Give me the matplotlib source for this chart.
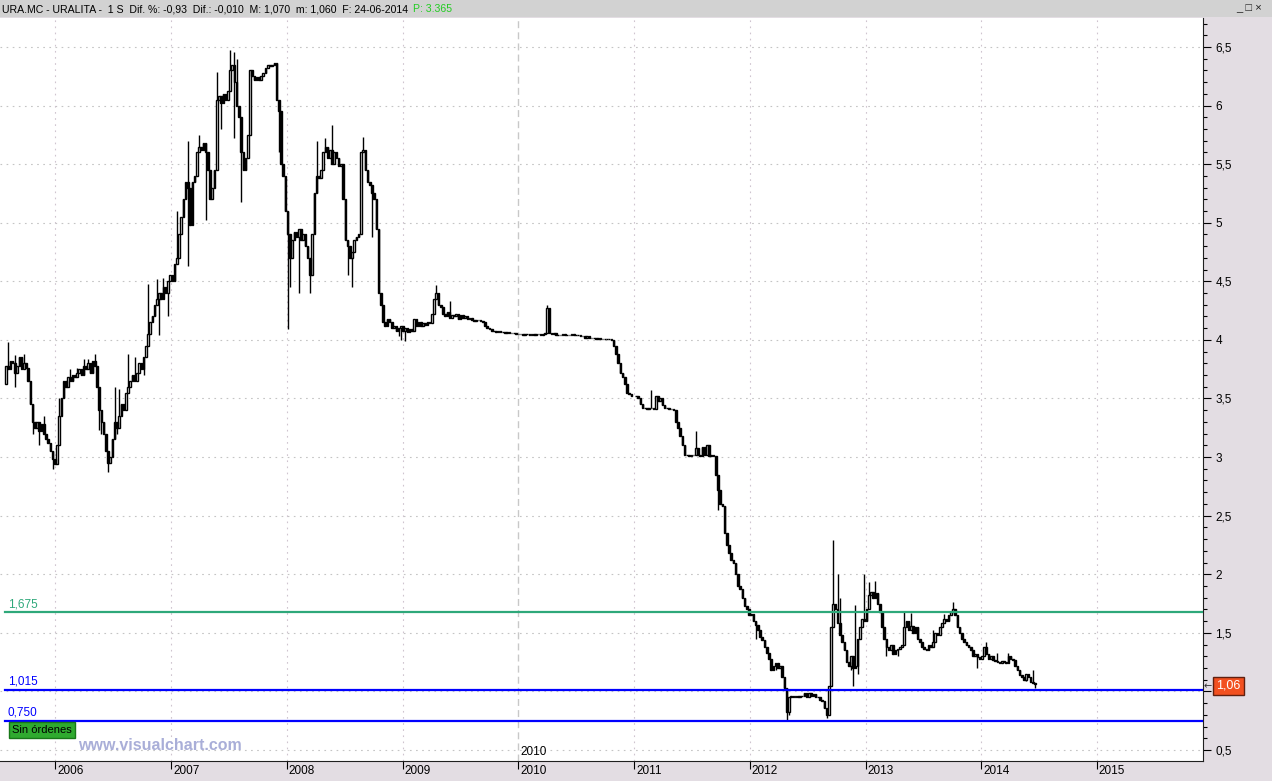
import numpy as np
import pandas as pd
import matplotlib
matplotlib.use('Agg')
import matplotlib.pyplot as plt
import matplotlib.dates as mdates
from matplotlib.ticker import MultipleLocator, FuncFormatter
from matplotlib.transforms import blended_transform_factory, offset_copy

plt.rcParams['font.family'] = ['Liberation Sans', 'DejaVu Sans']

# cierres semanales (URA.MC)
c2005 = [3.78, 3.75, 3.82, 3.80, 3.72, 3.78, 3.85, 3.75, 3.80, 3.76, 3.65, 3.45, 3.30,
         3.25, 3.30, 3.22, 3.28, 3.20, 3.15, 3.12, 3.05, 2.98, 2.94]
c2006 = [3.10, 3.35, 3.50, 3.65, 3.60, 3.68, 3.65, 3.70, 3.68, 3.72, 3.75, 3.70, 3.78,
         3.75, 3.80, 3.72, 3.82, 3.78, 3.60, 3.40, 3.30, 3.20, 3.05, 2.95, 3.00, 3.15,
         3.30, 3.25, 3.35, 3.45, 3.40, 3.55, 3.60, 3.65, 3.70, 3.65, 3.72, 3.80, 3.75,
         3.85, 3.95, 4.05, 4.15, 4.20, 4.30, 4.35, 4.40, 4.35, 4.45, 4.40, 4.50, 4.55]
c2007 = [4.50, 4.65, 4.70, 4.90, 5.05, 5.20, 5.35, 5.30, 4.98, 5.35, 5.40, 5.60, 5.65,
         5.62, 5.68, 5.60, 5.45, 5.20, 5.30, 5.45, 6.05, 6.08, 6.02, 6.10, 6.05, 6.12,
         6.30, 6.35, 6.20, 6.00, 5.90, 5.60, 5.45, 5.55, 5.75, 6.30, 6.25, 6.22, 6.24,
         6.22, 6.25, 6.28, 6.32, 6.35, 6.34, 6.35, 6.36, 6.05, 5.95, 5.50, 5.40, 5.10]
c2008 = [4.90, 4.70, 4.85, 4.92, 4.88, 4.95, 4.85, 4.90, 4.80, 4.70, 4.55, 4.90, 5.25,
         5.40, 5.38, 5.45, 5.60, 5.65, 5.55, 5.62, 5.50, 5.60, 5.55, 5.48, 5.50, 5.20,
         4.85, 4.80, 4.70, 4.75, 4.85, 4.88, 4.90, 5.60, 5.62, 5.45, 5.35, 5.32, 5.25,
         5.20, 4.95, 4.40, 4.30, 4.15, 4.12, 4.18, 4.15, 4.10, 4.12, 4.08, 4.10, 4.12]
c2009 = [4.08, 4.10, 4.07, 4.09, 4.08, 4.18, 4.12, 4.15, 4.12, 4.14, 4.13, 4.15, 4.14,
         4.22, 4.35, 4.40, 4.30, 4.28, 4.22, 4.20, 4.24, 4.19, 4.21, 4.20, 4.22, 4.18,
         4.21, 4.19, 4.20, 4.18, 4.19, 4.17, 4.16, 4.17, 4.17, 4.16, 4.15, 4.12, 4.10,
         4.09, 4.08, 4.08, 4.07, 4.08, 4.07, 4.07, 4.06, 4.07, 4.06, 4.06, 4.06, 4.05]
c2010 = [4.05, 4.05, 4.04, 4.05, 4.05, 4.04, 4.05, 4.04, 4.05, 4.05, 4.04, 4.05, 4.06,
         4.27, 4.06, 4.05, 4.06, 4.04, 4.04, 4.04, 4.05, 4.04, 4.04, 4.04, 4.05, 4.04,
         4.04, 4.04, 4.03, 4.03, 4.02, 4.03, 4.02, 4.02, 4.02, 4.01, 4.02, 4.01, 4.01,
         4.01, 4.01, 4.01, 4.00, 3.95, 3.88, 3.80, 3.72, 3.68, 3.62, 3.55, 3.54, 3.52]
c2011 = [3.52, 3.50, 3.45, 3.42, 3.42, 3.41, 3.42, 3.42, 3.41, 3.52, 3.48, 3.50, 3.44,
         3.42, 3.42, 3.41, 3.41, 3.40, 3.30, 3.25, 3.18, 3.10, 3.02, 3.02, 3.01, 3.02,
         3.02, 3.08, 3.02, 3.01, 3.09, 3.02, 3.10, 3.01, 3.02, 3.01, 2.85, 2.72, 2.60,
         2.58, 2.35, 2.25, 2.18, 2.12, 2.10, 2.00, 1.90, 1.87, 1.80, 1.73, 1.70, 1.65]
c2012 = [1.66, 1.60, 1.57, 1.52, 1.46, 1.44, 1.38, 1.33, 1.28, 1.18, 1.22, 1.24, 1.20,
         1.22, 1.12, 1.03, 0.82, 0.95, 0.96, 0.95, 0.96, 0.95, 0.96, 0.96, 0.99, 0.95,
         0.99, 0.96, 0.98, 0.95, 0.95, 0.93, 0.92, 0.86, 0.80, 1.05, 1.55, 1.75, 1.70,
         1.58, 1.48, 1.42, 1.35, 1.25, 1.22, 1.30, 1.20, 1.22, 1.45, 1.55, 1.62, 1.60]
c2013 = [1.70, 1.82, 1.85, 1.80, 1.84, 1.75, 1.68, 1.55, 1.45, 1.38, 1.35, 1.40, 1.32,
         1.35, 1.36, 1.38, 1.40, 1.55, 1.60, 1.52, 1.56, 1.50, 1.55, 1.45, 1.42, 1.38,
         1.36, 1.35, 1.40, 1.38, 1.42, 1.50, 1.48, 1.55, 1.58, 1.62, 1.60, 1.65, 1.68,
         1.70, 1.65, 1.55, 1.50, 1.45, 1.42, 1.40, 1.38, 1.35, 1.30, 1.32, 1.29, 1.28]
c2014 = [1.30, 1.38, 1.32, 1.28, 1.30, 1.27, 1.26, 1.25, 1.24, 1.26, 1.25, 1.24, 1.30,
         1.28, 1.27, 1.22, 1.18, 1.14, 1.12, 1.10, 1.15, 1.12, 1.08, 1.07, 1.06]
first_open = 3.62

# mechas visibles (maximos / minimos semanales)
highs = {'2005-08-02': 3.98, '2005-08-26': 3.87, '2005-09-20': 3.88, '2005-11-23': 3.35,
         '2006-01-12': 3.50, '2006-02-16': 3.75, '2006-03-10': 3.76, '2006-04-01': 3.84,
         '2006-04-14': 3.84, '2006-05-03': 3.88, '2006-07-08': 3.60, '2006-07-24': 3.58,
         '2006-08-21': 3.88, '2006-09-09': 3.85, '2006-10-20': 4.48, '2006-11-17': 4.52,
         '2006-12-09': 4.53, '2007-01-19': 5.10, '2007-02-20': 5.70, '2007-03-30': 5.75,
         '2007-05-28': 6.29, '2007-07-08': 6.47, '2007-07-21': 6.46, '2007-07-30': 6.40,
         '2008-04-05': 5.70, '2008-05-03': 5.72, '2008-05-25': 5.83, '2008-08-28': 5.73,
         '2009-04-20': 4.47, '2009-05-28': 4.33, '2010-04-02': 4.30, '2011-02-28': 3.57,
         '2011-07-12': 3.22, '2012-09-12': 1.35, '2012-09-21': 2.29, '2012-10-04': 2.00,
         '2012-10-13': 1.80, '2012-11-30': 1.74, '2012-12-28': 2.00, '2013-01-13': 1.93,
         '2013-02-01': 1.94, '2013-05-01': 1.68, '2013-05-23': 1.67, '2013-07-31': 1.52,
         '2013-09-04': 1.66, '2013-10-05': 1.76, '2014-01-20': 1.42, '2014-02-24': 1.33,
         '2014-03-31': 1.33, '2014-06-11': 1.18}
lows = {'2005-08-26': 3.60, '2005-10-19': 3.20, '2005-11-10': 3.10, '2005-12-12': 3.12,
        '2005-12-24': 2.90, '2006-05-18': 3.23, '2006-05-28': 3.20, '2006-06-13': 2.87,
        '2006-07-11': 3.20, '2006-10-04': 3.70, '2006-11-24': 4.04, '2006-12-19': 4.20,
        '2007-01-26': 4.75, '2007-02-23': 4.63, '2007-03-10': 5.00, '2007-04-23': 5.02,
        '2007-05-28': 5.88, '2007-06-10': 5.80, '2007-07-21': 5.72, '2007-08-12': 5.18,
        '2007-08-21': 5.54, '2007-12-10': 5.60, '2008-01-04': 4.09, '2008-01-10': 4.45,
        '2008-02-11': 4.40, '2008-03-14': 4.40, '2008-07-12': 4.55, '2008-07-28': 4.45,
        '2008-09-25': 4.88, '2008-10-21': 4.40, '2008-12-17': 4.03, '2008-12-24': 4.00,
        '2009-01-12': 3.99, '2011-09-20': 2.55, '2012-01-18': 1.45, '2012-03-21': 1.18,
        '2012-04-27': 0.76, '2012-05-02': 0.80, '2012-08-30': 0.77, '2012-11-14': 1.18,
        '2012-11-20': 1.05, '2012-12-09': 1.15, '2013-03-08': 1.30, '2013-04-09': 1.30,
        '2013-12-20': 1.20, '2014-05-23': 1.09, '2014-06-20': 1.03}

levels = [1.675, 1.015, 0.750]
level_colors = ['#2ea87a', '#0000ff', '#0000ff']
level_labels = ['1,675', '1,015', '0,750']
years = list(range(2006, 2016))

# construir la serie semanal
parts = [pd.Series(c2005, index=pd.date_range(end='2005-12-30', periods=len(c2005), freq='W-FRI'))]
for y, c in [(2006, c2006), (2007, c2007), (2008, c2008), (2009, c2009), (2010, c2010),
             (2011, c2011), (2012, c2012), (2013, c2013), (2014, c2014)]:
    parts.append(pd.Series(c, index=pd.date_range(start=f'{y}-01-01', periods=len(c), freq='W-FRI')))
df = pd.DataFrame({'close': pd.concat(parts)})
df['open'] = df['close'].shift(1).fillna(first_open)
df['high'] = df[['open', 'close']].max(axis=1)
df['low'] = df[['open', 'close']].min(axis=1)
for d, v in highs.items():
    i = df.index.get_indexer([pd.Timestamp(d)], method='nearest')[0]
    df.iloc[i, df.columns.get_loc('high')] = max(v, df['high'].iloc[i])
for d, v in lows.items():
    i = df.index.get_indexer([pd.Timestamp(d)], method='nearest')[0]
    df.iloc[i, df.columns.get_loc('low')] = min(v, df['low'].iloc[i])

W, H = 1272, 781
fig = plt.figure(figsize=(W / 100, H / 100), dpi=100, facecolor='#e3dde3')
fig.patches.append(plt.Rectangle((0, 1 - 17 / H), 1, 17 / H, transform=fig.transFigure,
                                 facecolor='#d2d2d2', edgecolor='none', zorder=0))
ax = fig.add_axes([0, 20 / H, 1203 / W, 743 / H])
ax.set_facecolor('white')

x = mdates.date2num(df.index.to_pydatetime())
o, c, hi, lo = df['open'].values, df['close'].values, df['high'].values, df['low'].values
up = c >= o
ax.vlines(x, lo, hi, color='black', lw=1.0, zorder=3)
ax.bar(x[up], (c - o)[up], bottom=o[up], width=5.0, facecolor='white', edgecolor='black',
       linewidth=1.0, zorder=4)
ax.bar(x[~up], (o - c)[~up], bottom=c[~up], width=5.0, facecolor='black', edgecolor='black',
       linewidth=1.0, zorder=4)

# rejilla
for v in np.arange(0.5, 7.0, 0.5):
    ax.axhline(v, color='#c4c4c4', lw=0.8, ls=(0, (1.5, 4)), zorder=1)
for y in years:
    if y == 2010:
        ax.axvline(mdates.date2num(pd.Timestamp('2010-01-01')), color='#c8c8c8', lw=1.0,
                   ls=(0, (5, 3)), zorder=1)
    else:
        ax.axvline(mdates.date2num(pd.Timestamp(f'{y}-01-01')), color='#cfc4cf', lw=0.8,
                   ls=(0, (1.5, 4)), zorder=1)

# niveles horizontales
for lv, col, lab in zip(levels, level_colors, level_labels):
    ax.axhline(lv, xmin=5 / 1203, color=col, lw=1.6, zorder=5)
    ax.text(8 / 1203, lv, lab, color=col, fontsize=8.5, va='bottom', ha='left',
            transform=offset_copy(blended_transform_factory(ax.transAxes, ax.transData),
                                  fig=fig, y=2, units='dots'),
            zorder=6)

ax.set_xlim(mdates.date2num(pd.Timestamp('2005-07-10')), mdates.date2num(pd.Timestamp('2015-12-02')))
ax.set_ylim(0.406, 6.747)

ax.yaxis.tick_right()
ax.yaxis.set_major_locator(MultipleLocator(0.5))
ax.yaxis.set_minor_locator(MultipleLocator(0.1))
ax.yaxis.set_major_formatter(FuncFormatter(lambda v, p: f'{v:g}'.replace('.', ',')))
ax.tick_params(axis='y', which='major', length=6, width=0.8, direction='out', pad=3,
               labelsize=8.5, colors='black')
ax.tick_params(axis='y', which='minor', length=3, width=0.8, direction='out')

xt = [mdates.date2num(pd.Timestamp(f'{y}-01-01')) for y in years]
ax.set_xticks(xt)
ax.set_xticklabels([''] * len(xt))
ax.tick_params(axis='x', length=6, width=0.8, direction='out')
trans = offset_copy(blended_transform_factory(ax.transData, ax.transAxes), fig=fig, x=2, y=-4, units='dots')
for y, xv in zip(years, xt):
    ax.text(xv, 0, str(y), transform=trans, ha='left', va='top', fontsize=8.5, clip_on=False)
trans_in = offset_copy(blended_transform_factory(ax.transData, ax.transAxes), fig=fig, x=2, y=3, units='dots')
ax.text(xt[4], 0, '2010', transform=trans_in, ha='left', va='bottom', fontsize=8.5)

for s in ['top', 'left']:
    ax.spines[s].set_visible(False)
ax.spines['right'].set_color('#202020')
ax.spines['bottom'].set_color('#202020')

# cabecera
fig.text(2 / W, 1 - 9 / H,
         'URA.MC - URALITA -  1 S  Dif. %: -0,93  Dif.: -0,010  M: 1,070  m: 1,060  F: 24-06-2014',
         fontsize=7.6, va='center', ha='left')
fig.text(413 / W, 1 - 9 / H, 'P: 3.365', fontsize=7.6, va='center', ha='left', color='#22cc22')
fig.text(1236 / W, 1 - 8 / H, '_ □ ×', fontsize=8, va='center', ha='left', color='#202020')

# etiquetas
fig.text(12 / W, 1 - 730 / H, 'Sin órdenes', fontsize=8, va='center', ha='left',
         bbox=dict(facecolor='#2faa2f', edgecolor='#187818', boxstyle='square,pad=0.25'))
fig.text(78 / W, 1 - 745 / H, 'www.visualchart.com', fontsize=11.5, fontweight='bold',
         color='#a9aed8', va='center', ha='left')
fig.text(1216 / W, 1 - 686 / H, '1,06', fontsize=9, color='white', va='center', ha='left',
         zorder=10,
         bbox=dict(facecolor='#f25020', edgecolor='#602010', boxstyle='square,pad=0.25'))
fig.text(1204 / W, 1 - 686 / H, '←', fontsize=7, color='#303030', va='center', ha='left',
         family=['DejaVu Sans'])

fig.savefig('out.png', dpi=100, facecolor=fig.get_facecolor())
